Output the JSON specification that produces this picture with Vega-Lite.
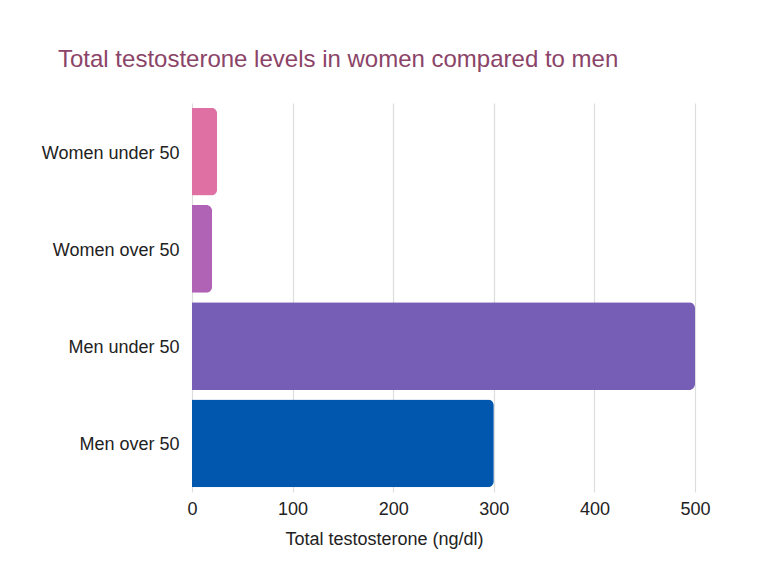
{
  "$schema": "https://vega.github.io/schema/vega-lite/v6.json",
  "width": 503,
  "height": 389,
  "autosize": {"type": "none"},
  "padding": {"left": 192, "top": 103, "right": 73, "bottom": 84},
  "background": "white",
  "title": {
    "text": "Total testosterone levels in women compared to men",
    "anchor": "start",
    "frame": "group",
    "dx": -134,
    "offset": 31,
    "font": "Liberation Sans",
    "fontSize": 24,
    "fontWeight": "normal",
    "color": "#8B4468"
  },
  "data": {
    "values": [
      {"group": "Women under 50", "value": 25},
      {"group": "Women over 50", "value": 20},
      {"group": "Men under 50", "value": 500},
      {"group": "Men over 50", "value": 300}
    ]
  },
  "mark": {"type": "bar", "cornerRadiusEnd": 6},
  "encoding": {
    "y": {
      "field": "group",
      "type": "nominal",
      "sort": null,
      "title": null,
      "scale": {"paddingInner": 0.1, "paddingOuter": 0.05},
      "axis": {
        "domain": false,
        "ticks": false,
        "grid": false,
        "labelFont": "Liberation Sans",
        "labelFontSize": 18,
        "labelColor": "#222222",
        "labelPadding": 13,
        "labelOffset": 2
      }
    },
    "x": {
      "field": "value",
      "type": "quantitative",
      "title": "Total testosterone (ng/dl)",
      "scale": {"domain": [0, 500], "nice": false},
      "axis": {
        "values": [0, 100, 200, 300, 400, 500],
        "domain": false,
        "ticks": false,
        "grid": true,
        "gridColor": "#dddddd",
        "gridWidth": 1.2,
        "labelFlush": false,
        "labelFont": "Liberation Sans",
        "labelFontSize": 18,
        "labelColor": "#222222",
        "labelPadding": 8,
        "titleFont": "Liberation Sans",
        "titleFontSize": 18,
        "titleFontWeight": "normal",
        "titleColor": "#222222",
        "titlePadding": 12,
        "titleX": 192,
        "titleAlign": "center"
      }
    },
    "color": {
      "field": "group",
      "type": "nominal",
      "legend": null,
      "scale": {
        "domain": ["Women under 50", "Women over 50", "Men under 50", "Men over 50"],
        "range": ["#DE70A4", "#B062B4", "#765DB6", "#0057AD"]
      }
    }
  },
  "config": {"view": {"stroke": null}}
}
